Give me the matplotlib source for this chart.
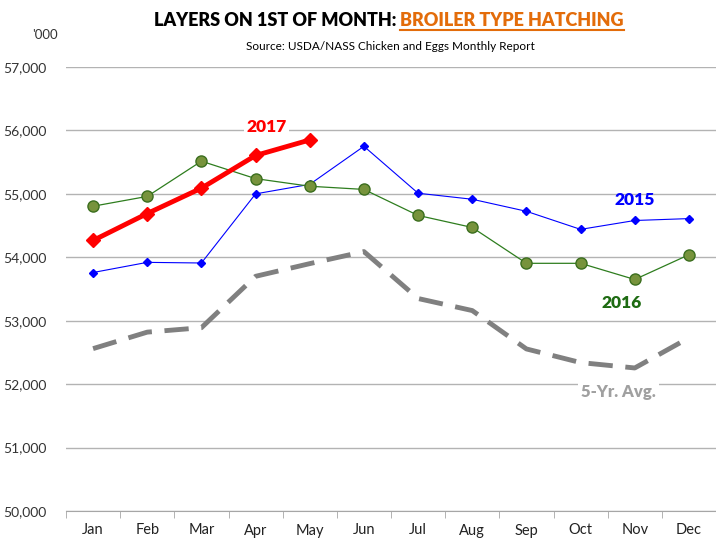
import matplotlib.pyplot as plt
from matplotlib.lines import Line2D

plt.rcParams['font.family'] = ['Lato', 'DejaVu Sans']

months = ['Jan', 'Feb', 'Mar', 'Apr', 'May', 'Jun', 'Jul', 'Aug', 'Sep', 'Oct', 'Nov', 'Dec']
y2015 = [53760, 53920, 53910, 55000, 55150, 55750, 55010, 54915, 54725, 54440, 54580, 54610]
y2016 = [54805, 54960, 55515, 55240, 55120, 55070, 54660, 54470, 53905, 53905, 53650, 54040]
y2017 = [54265, 54690, 55090, 55605, 55850]
avg5 = [52560, 52820, 52890, 53700, 53900, 54090, 53350, 53160, 52555, 52340, 52255, 52730]
yticks = [50000, 51000, 52000, 53000, 54000, 55000, 56000, 57000]

W, H = 716, 539
fig = plt.figure(figsize=(W / 100, H / 100), dpi=100)
ax = fig.add_axes([66 / W, 28 / H, 650 / W, 444 / H])

x = list(range(len(months)))
ax.plot(x, avg5, color='#808080', lw=3.5, dashes=(5, 2.6), zorder=2)
ax.plot(x, y2015, color='#0000FF', lw=0.8, marker='D', ms=4,
        mfc='#0000FF', mec='#0000FF', zorder=3)
ax.plot(x, y2016, color='#2E7D1E', lw=0.9, marker='o', ms=8,
        mfc='#77933C', mec='#3B6E1E', mew=1, zorder=3)
ax.plot(x[:len(y2017)], y2017, color='#FF0000', lw=3.5, marker='D', ms=7,
        mfc='#FF0000', mec='#FF0000', zorder=4)

ax.set_xlim(-0.5, 11.5 - 9 / 55)
ax.set_ylim(50000, 57000)
ax.set_yticks(yticks)
ax.set_yticklabels([f'{v:,}' for v in yticks], fontsize=10, color='#333333')
ax.set_xticks(x)
ax.set_xticklabels(months, fontsize=10.5, color='#222222')
ax.set_xticks([i + 0.5 for i in range(-1, 12)], minor=True)
ax.tick_params(axis='x', which='major', length=0, pad=9)
ax.tick_params(axis='x', which='minor', length=5, color='#A6A6A6', direction='out')
ax.tick_params(axis='y', length=0, pad=14)
ax.grid(axis='y', color='#B3B3B3', lw=1)
ax.set_axisbelow(True)
for s in ['top', 'right', 'left']:
    ax.spines[s].set_visible(False)
ax.spines['bottom'].set_color('#A6A6A6')

box = dict(facecolor='white', edgecolor='none', pad=2)
ax.text(3.2, 56060, '2017', color='#FF0000', fontsize=12.5, fontweight='heavy',
        ha='center', va='center', bbox=box, zorder=5)
ax.text(10.0, 54900, '2015', color='#0000FF', fontsize=12.5, fontweight='heavy',
        ha='center', va='center', zorder=5)
ax.text(9.75, 53280, '2016', color='#1E6B12', fontsize=12.5, fontweight='heavy',
        ha='center', va='center', zorder=5)
ax.text(9.7, 51870, '5-Yr. Avg.', color='#A0A0A0', fontsize=12, fontweight='heavy',
        ha='center', va='center', bbox=box, zorder=5)

fig.text(45 / W, 1 - 35 / H, "'000", fontsize=9.5, color='#333333', ha='center', va='center')

# title in two colours, second part underlined
tx = 400 / W
ty = 1 - 20 / H
t1 = fig.text(tx, ty, 'LAYERS ON 1ST OF MONTH: ', fontsize=13, fontweight='heavy',
              color='black', ha='right', va='center')
t2 = fig.text(tx, ty, 'BROILER TYPE HATCHING', fontsize=13, fontweight='heavy',
              color='#E36C0A', ha='left', va='center')
fig.canvas.draw()
bb = t2.get_window_extent()
uy = (bb.y0 - 1) / H
fig.add_artist(Line2D([bb.x0 / W, bb.x1 / W], [uy, uy], color='#E36C0A', lw=1.5))

fig.text(390 / W, 1 - 46 / H, 'Source: USDA/NASS Chicken and Eggs Monthly Report',
         fontsize=8.5, color='black', ha='center', va='center')

fig.savefig('out.png', dpi=100)
